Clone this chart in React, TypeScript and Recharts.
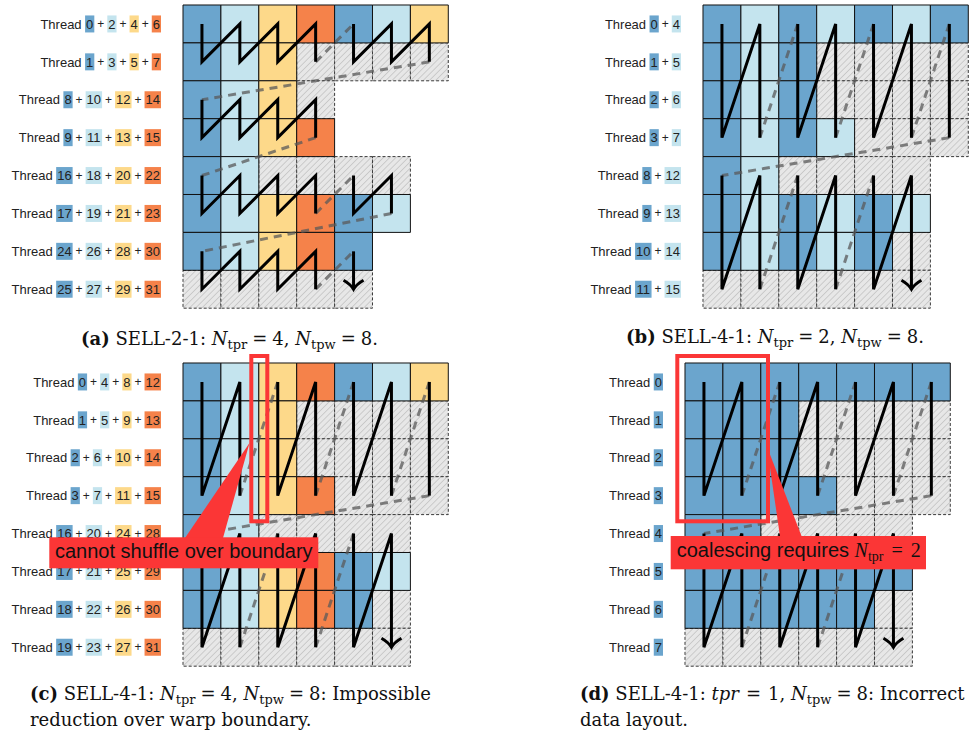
import React from 'react';
import { ComposedChart, XAxis, YAxis, Scatter, ReferenceArea } from 'recharts';

// cell codes: B dark blue, L light blue, Y yellow, O orange, H padding (hatched)
const cellsA = ['BLYOBLY', 'BLYHHHH', 'BLYH', 'BLYO', 'BLHHHH', 'BLYOBL', 'BLYOB', 'HHHHH'];
const cellsB = ['BLBLBLB', 'BLBHHHH', 'BLBHHHH', 'BLBLHHH', 'BLHHHH', 'BLBLBL', 'BLBLBH', 'HHHHHH'];
const cellsC = ['BLYOBLY', 'BLYHHHH', 'BLYHHHH', 'BLYOHHH', 'BLHHHH', 'BLYOBL', 'BLYOBH', 'HHHHHH'];
const cellsD = ['BBBBBBB', 'BBBHHHH', 'BBBHHHH', 'BBBBHHH', 'BBHHHH', 'BBBBBB', 'BBBBBH', 'HHHHHH'];

const threadsA = [[0, 2, 4, 6], [1, 3, 5, 7], [8, 10, 12, 14], [9, 11, 13, 15], [16, 18, 20, 22], [17, 19, 21, 23], [24, 26, 28, 30], [25, 27, 29, 31]];
const threadsB = [[0, 4], [1, 5], [2, 6], [3, 7], [8, 12], [9, 13], [10, 14], [11, 15]];
const threadsC = [[0, 4, 8, 12], [1, 5, 9, 13], [2, 6, 10, 14], [3, 7, 11, 15], [16, 20, 24, 28], [17, 21, 25, 29], [18, 22, 26, 30], [19, 23, 27, 31]];
const threadsD = [[0], [1], [2], [3], [4], [5], [6], [7]];

const threadColors = ['B', 'L', 'Y', 'O'];
const threadColorsD = ['B'];

// zigzag groups: rows top/bottom, columns walked, diagonals drawn dashed (after column i), arrow at the end
const groupsA = [
  { top: 0, bottom: 1, cols: 7, dashed: [3], arrow: false },
  { top: 2, bottom: 3, cols: 4, dashed: [], arrow: false },
  { top: 4, bottom: 5, cols: 6, dashed: [3], arrow: false },
  { top: 6, bottom: 7, cols: 5, dashed: [3], arrow: true },
];
const groupsB = [
  { top: 0, bottom: 3, cols: 7, dashed: [1, 3, 5], arrow: false },
  { top: 4, bottom: 7, cols: 6, dashed: [1, 3], arrow: true },
];

const FILL: Record<string, string> = { B: '#6ba5cd', L: '#c4e4ee', Y: '#fdd98a', O: '#f5824a' };
const CELL = 37.9;
const RED = '#fb3636';
const SANS = '"Liberation Sans", Arial, sans-serif';
const SERIF = '"DejaVu Serif", "Liberation Serif", serif';
const MATH = '"Liberation Serif", "Times New Roman", serif';

type Pt = { x: number; y: number; head?: boolean };

function buildStrokes(groups: typeof groupsA) {
  const solid: Pt[][] = [];
  const dashed: Pt[][] = [];
  let prevEnd: Pt | null = null;
  groups.forEach((g) => {
    const top = (c: number): Pt => ({ x: c + 0.5, y: g.top + 0.5 });
    const bot = (c: number): Pt => ({ x: c + 0.5, y: g.bottom + 0.5 });
    if (prevEnd) dashed.push([prevEnd, top(0)]);
    let run: Pt[] = [top(0)];
    for (let c = 0; c < g.cols; c++) {
      if (c > 0) {
        if (g.dashed.includes(c - 1)) {
          if (run.length > 1) solid.push(run);
          dashed.push([bot(c - 1), top(c)]);
          run = [top(c)];
        } else {
          run.push(top(c));
        }
      }
      const last = c === g.cols - 1;
      run.push(last && g.arrow ? { ...bot(c), head: true } : bot(c));
    }
    if (run.length > 1) solid.push(run);
    prevEnd = bot(g.cols - 1);
  });
  return { solid, dashed };
}

const renderPoint = (props: any) => {
  const { cx, cy } = props;
  const head = props.head || (props.payload && props.payload.head);
  if (!head) return <g />;
  return (
    <path
      d={`M${cx - 10},${cy - 9} Q${cx - 3},${cy - 5} ${cx},${cy} Q${cx + 3},${cy - 5} ${cx + 10},${cy - 9}`}
      fill="none"
      stroke="#000"
      strokeWidth={3}
    />
  );
};

const DIGIT = 7.23;
const SEP = 13;

const makeTick = (threads: number[][], colors: string[]) => (props: any) => {
  const { x, y, payload } = props;
  const row = Math.floor(payload.value);
  const nums = threads[row];
  const widths = nums.map((n) => String(n).length * DIGIT + 2);
  const total = widths.reduce((a, b) => a + b, 0) + (nums.length - 1) * SEP;
  let left = x - total;
  const parts: React.ReactNode[] = [];
  nums.forEach((n, i) => {
    const w = widths[i];
    parts.push(<rect key={'r' + i} x={left} y={y - 8.5} width={w} height={17} fill={FILL[colors[i % colors.length]]} />);
    parts.push(
      <text key={'t' + i} x={left + w / 2} y={y} dy="0.36em" textAnchor="middle" fontSize={13} fontFamily={SANS} fill="#222">
        {n}
      </text>
    );
    if (i < nums.length - 1) {
      parts.push(
        <text key={'p' + i} x={left + w + SEP / 2} y={y} dy="0.33em" textAnchor="middle" fontSize={12} fontFamily={SANS} fill="#222">
          +
        </text>
      );
    }
    left += w + SEP;
  });
  return (
    <g>
      <text x={x - total - 3.5} y={y} dy="0.36em" textAnchor="end" fontSize={13} fontFamily={SANS} fill="#222">
        Thread
      </text>
      {parts}
    </g>
  );
};

const rowTicks = [0.5, 1.5, 2.5, 3.5, 4.5, 5.5, 6.5, 7.5];

function Panel(p: {
  id: string;
  cells: string[];
  threads: number[][];
  colors: string[];
  groups: typeof groupsA;
  plotLeft: number;
  plotTop: number;
  axisW: number;
}) {
  const { solid, dashed } = buildStrokes(p.groups);
  const cellList: { r: number; c: number; k: string }[] = [];
  p.cells.forEach((row, r) => row.split('').forEach((k, c) => cellList.push({ r, c, k })));
  const ordered = [...cellList.filter((d) => d.k === 'H'), ...cellList.filter((d) => d.k !== 'H')];
  const m = 6;
  return (
    <div style={{ position: 'absolute', left: p.plotLeft - p.axisW, top: p.plotTop - m }}>
      <ComposedChart
        width={p.axisW + 7 * CELL + m}
        height={8 * CELL + 2 * m}
        margin={{ top: m, right: m, bottom: m, left: 0 }}
      >
        <defs>
          <pattern id={'hatch-' + p.id} width={4.4} height={4.4} patternUnits="userSpaceOnUse" patternTransform="rotate(45)">
            <rect width={4.4} height={4.4} fill="#e7e7e7" />
            <line x1={0} y1={0} x2={0} y2={4.4} stroke="#a9a9a9" strokeWidth={0.9} />
          </pattern>
        </defs>
        <XAxis type="number" dataKey="x" domain={[0, 7]} hide />
        <YAxis
          type="number"
          dataKey="y"
          domain={[0, 8]}
          reversed
          ticks={rowTicks}
          interval={0}
          width={p.axisW}
          axisLine={false}
          tickLine={false}
          tickSize={0}
          tickMargin={22}
          tick={makeTick(p.threads, p.colors)}
        />
        {ordered.map((d) => (
          <ReferenceArea
            key={`${d.r}-${d.c}`}
            x1={d.c}
            x2={d.c + 1}
            y1={d.r}
            y2={d.r + 1}
            fill={d.k === 'H' ? `url(#hatch-${p.id})` : FILL[d.k]}
            fillOpacity={1}
            stroke={d.k === 'H' ? '#3a3a3a' : '#111'}
            strokeDasharray={d.k === 'H' ? '3 2' : undefined}
            strokeWidth={1}
            ifOverflow="visible"
          />
        ))}
        {dashed.map((seg, i) => (
          <Scatter
            key={'d' + i}
            data={seg}
            line={{ stroke: '#5a5a5a', strokeOpacity: 0.75, strokeWidth: 3, strokeDasharray: '8 6' }}
            shape={renderPoint}
            isAnimationActive={false}
          />
        ))}
        {solid.map((run, i) => (
          <Scatter
            key={'s' + i}
            data={run}
            line={{ stroke: '#000', strokeWidth: 3 }}
            shape={renderPoint}
            isAnimationActive={false}
          />
        ))}
      </ComposedChart>
    </div>
  );
}

const subStyle: React.CSSProperties = { fontSize: 13, position: 'relative', top: 4, fontStyle: 'normal' };
const eq = (v: string) => <span style={{ margin: '0 5px' }}>{v}</span>;
const Nsub = (s: string) => (
  <>
    <i>N</i>
    <span style={subStyle}>{s}</span>
  </>
);

const captionBase: React.CSSProperties = {
  position: 'absolute',
  fontFamily: SERIF,
  fontSize: 18,
  lineHeight: '24px',
  color: '#111',
  whiteSpace: 'nowrap',
};

export default function App() {
  return (
    <div style={{ position: 'absolute', left: 0, top: 0, width: 976, height: 731, background: '#fff', overflow: 'hidden' }}>
      <Panel id="a" cells={cellsA} threads={threadsA} colors={threadColors} groups={groupsA} plotLeft={183.3} plotTop={5.3} axisW={183} />
      <Panel id="b" cells={cellsB} threads={threadsB} colors={threadColors} groups={groupsB} plotLeft={703.3} plotTop={5.3} axisW={213} />
      <Panel id="c" cells={cellsC} threads={threadsC} colors={threadColors} groups={groupsB} plotLeft={183.3} plotTop={363.3} axisW={183} />
      <Panel id="d" cells={cellsD} threads={threadsD} colors={threadColorsD} groups={groupsB} plotLeft={684.7} plotTop={363.3} axisW={194} />

      <div style={{ ...captionBase, left: 229.5, top: 327, transform: 'translateX(-50%)' }}>
        <b>(a)</b> SELL-2-1: {Nsub('tpr')}{eq('=')}4, {Nsub('tpw')}{eq('=')}8.
      </div>
      <div style={{ ...captionBase, left: 775, top: 325, transform: 'translateX(-50%)' }}>
        <b>(b)</b> SELL-4-1: {Nsub('tpr')}{eq('=')}2, {Nsub('tpw')}{eq('=')}8.
      </div>
      <div style={{ ...captionBase, left: 30, top: 682 }}>
        <b>(c)</b> SELL-4-1: {Nsub('tpr')}{eq('=')}4, {Nsub('tpw')}{eq('=')}8: Impossible
        <br />
        reduction over warp boundary.
      </div>
      <div style={{ ...captionBase, left: 580, top: 682 }}>
        <b>(d)</b> SELL-4-1: <i>tpr</i>
        <span style={{ margin: '0 7px' }}>=</span>1, {Nsub('tpw')}{eq('=')}8: Incorrect
        <br />
        data layout.
      </div>

      <svg width={976} height={731} style={{ position: 'absolute', left: 0, top: 0, pointerEvents: 'none' }}>
        <rect x={251.3} y={356} width={16} height={165.3} fill="none" stroke={RED} strokeWidth={4} />
        <polygon points="249.5,443 185,538 223,538" fill={RED} />
        <rect x={49.3} y={537.3} width={269} height={31} fill={RED} />
        <text x={183.8} y={558} textAnchor="middle" fontFamily={SANS} fontSize={20} fill="#111">
          cannot shuffle over boundary
        </text>

        <rect x={677.3} y={356} width={90.7} height={165.3} fill="none" stroke={RED} strokeWidth={4} />
        <polygon points="767,446.7 780,536.5 801.7,536.5" fill={RED} />
        <rect x={670.7} y={536} width={255.3} height={33.3} fill={RED} />
        <text x={676.7} y={557} fontFamily={SANS} fontSize={20} fill="#111">
          coalescing requires{' '}
          <tspan fontFamily={MATH} fontStyle="italic">N</tspan>
          <tspan fontFamily={MATH} fontSize={14} dy={4}>tpr</tspan>
          <tspan fontFamily={MATH} dy={-4} dx={8}>=</tspan>
          <tspan fontFamily={MATH} dx={8}>2</tspan>
        </text>
      </svg>
    </div>
  );
}
